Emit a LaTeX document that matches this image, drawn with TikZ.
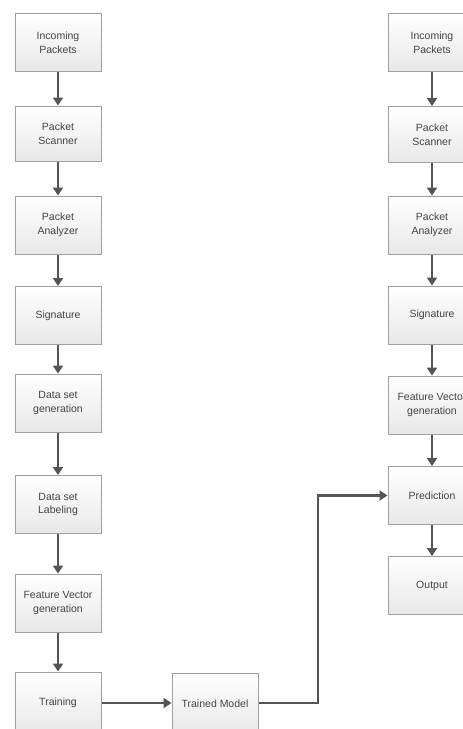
\documentclass[tikz,border=0pt]{standalone}
\usepackage{fontspec}
\setmainfont{Liberation Sans}
\usetikzlibrary{arrows.meta}
\definecolor{boxline}{HTML}{A0A0A0}
\definecolor{arr}{HTML}{555555}
\definecolor{txt}{HTML}{444444}
\begin{document}
\begin{tikzpicture}[x=1pt,y=-1pt,
  box/.style={draw=boxline,line width=1pt,top color=white,bottom color=black!9,
    minimum width=86pt,minimum height=58pt,inner sep=1pt,align=center,
    font=\fontsize{10.5}{13.5}\selectfont,text=txt},
  flow/.style={draw=arr,line width=2.4pt,-{Triangle[length=8pt,width=10pt]}}]
\useasboundingbox (0,0) rectangle (463,729);
\clip (0,0) rectangle (463,729);
% left column
\node[box] (l1) at (58,42.5) {Incoming\\Packets};
\node[box,minimum height=55pt] (l2) at (58,133.5) {Packet\\Scanner};
\node[box] (l3) at (58,225) {Packet\\Analyzer};
\node[box] (l4) at (58,315.5) {Signature};
\node[box] (l5) at (58,403) {Data set\\generation};
\node[box] (l6) at (58,504.5) {Data set\\Labeling};
\node[box] (l7) at (58,603) {Feature Vector\\generation};
\node[box,minimum height=62pt] (l8) at (58,703) {Training};
\node[box,minimum height=62pt] (tm) at (215,704) {Trained Model};
% right column
\node[box,minimum width=88pt] (r1) at (432,42.5) {Incoming\\Packets};
\node[box,minimum width=88pt,minimum height=56pt] (r2) at (432,134.5) {Packet\\Scanner};
\node[box,minimum width=88pt] (r3) at (432,225) {Packet\\Analyzer};
\node[box,minimum width=88pt] (r4) at (432,315) {Signature};
\node[box,minimum width=88pt] (r5) at (432,405) {Feature Vector\\generation};
\node[box,minimum width=88pt] (r6) at (432,495.5) {Prediction};
\node[box,minimum width=88pt] (r7) at (432,585.5) {Output};
% arrows
\foreach \a/\b in {l1/l2,l2/l3,l3/l4,l4/l5,l5/l6,l6/l7,l7/l8,r1/r2,r2/r3,r3/r4,r4/r5,r5/r6,r6/r7}
  \draw[flow] (\a.south) -- (\b.north);
\draw[flow] (l8.east |- 0,703) -- (tm.west |- 0,703);
\coordinate (bend) at (318,703);
\draw[flow] (tm.east |- bend) -- (bend) |- (r6.west);
\end{tikzpicture}
\end{document}
